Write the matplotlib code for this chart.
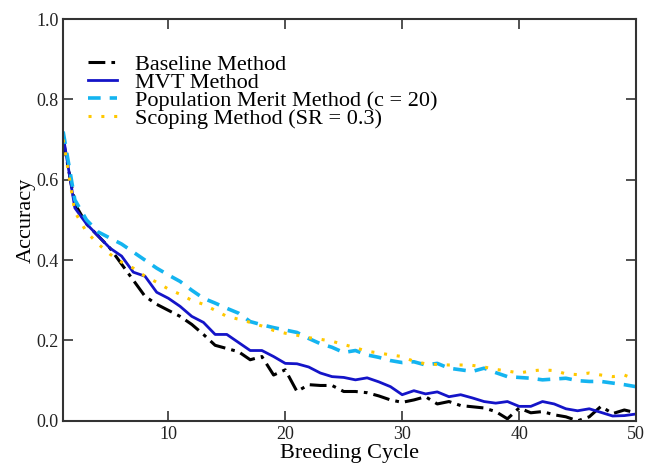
import matplotlib
matplotlib.use("Agg")
import matplotlib.pyplot as plt

plt.rcParams['font.family'] = ['Liberation Serif', 'DejaVu Serif']

cycles = list(range(1, 51))

baseline = [0.70, 0.54, 0.49, 0.46, 0.43, 0.39, 0.35, 0.31, 0.29, 0.275,
            0.26, 0.24, 0.215, 0.188, 0.18, 0.172, 0.152, 0.16, 0.114, 0.127,
            0.073, 0.09, 0.088, 0.088, 0.073, 0.073, 0.07, 0.062, 0.052, 0.046,
            0.052, 0.06, 0.042, 0.048, 0.038, 0.035, 0.032, 0.023, 0.005, 0.032,
            0.02, 0.023, 0.015, 0.01, 0.0, 0.01, 0.036, 0.018, 0.027, 0.02]

mvt = [0.71, 0.53, 0.49, 0.46, 0.43, 0.41, 0.37, 0.36, 0.32, 0.305,
       0.285, 0.26, 0.245, 0.215, 0.215, 0.195, 0.175, 0.175, 0.16, 0.143,
       0.142, 0.134, 0.119, 0.11, 0.108, 0.102, 0.107, 0.097, 0.085, 0.065,
       0.075, 0.067, 0.072, 0.06, 0.065, 0.057, 0.048, 0.044, 0.048, 0.036,
       0.036, 0.048, 0.042, 0.03, 0.025, 0.03, 0.021, 0.012, 0.013, 0.017]

merit = [0.72, 0.55, 0.50, 0.47, 0.455, 0.44, 0.42, 0.40, 0.38, 0.363,
         0.347, 0.325, 0.305, 0.293, 0.28, 0.268, 0.247, 0.239, 0.232, 0.226,
         0.22, 0.205, 0.192, 0.183, 0.17, 0.175, 0.164, 0.158, 0.15, 0.145,
         0.147, 0.139, 0.143, 0.131, 0.127, 0.123, 0.131, 0.12, 0.11, 0.108,
         0.106, 0.102, 0.104, 0.106, 0.10, 0.098, 0.098, 0.094, 0.09, 0.085]

scoping = [0.70, 0.52, 0.47, 0.44, 0.415, 0.395, 0.38, 0.36, 0.345, 0.328,
           0.315, 0.30, 0.29, 0.275, 0.26, 0.253, 0.245, 0.236, 0.225, 0.218,
           0.213, 0.207, 0.203, 0.198, 0.19, 0.182, 0.173, 0.169, 0.164, 0.16,
           0.148, 0.142, 0.14, 0.139, 0.139, 0.138, 0.134, 0.128, 0.124, 0.119,
           0.124, 0.127, 0.125, 0.117, 0.115, 0.119, 0.114, 0.11, 0.114, 0.102]

fig = plt.figure(figsize=(6.51, 4.65), dpi=100)
ax = fig.add_axes([0.097, 0.095, 0.880, 0.864])

ax.plot(cycles, baseline, color='black', linewidth=2.2,
        dashes=(5.5, 2, 1.2, 2), label='Baseline Method')
ax.plot(cycles, mvt, color='#1414c8', linewidth=2.0, label='MVT Method')
ax.plot(cycles, merit, color='#14b4f0', linewidth=2.6,
        dashes=(3.5, 2.5), label='Population Merit Method (c = 20)')
ax.plot(cycles, scoping, color='#ffc800', linewidth=2.2,
        dashes=(1, 3.2), label='Scoping Method (SR = 0.3)')

ax.set_xlim(1, 50)
ax.set_ylim(0, 1.0)
ax.set_xticks([10, 20, 30, 40, 50])
ax.set_yticks([0.0, 0.2, 0.4, 0.6, 0.8, 1.0])
ax.set_yticklabels(['0.0', '0.2', '0.4', '0.6', '0.8', '1.0'])
ax.tick_params(direction='in', length=7, width=1.2, top=True, right=True,
               labelsize=13, colors='#333333', labelcolor='#222222')
for s in ax.spines.values():
    s.set_linewidth(1.5)
    s.set_color('#333333')

ax.set_xlabel('Breeding Cycle', fontsize=16, labelpad=1)
ax.set_ylabel('Accuracy', fontsize=16, labelpad=0)

ax.legend(loc='upper left', bbox_to_anchor=(0.02, 0.945), frameon=False,
          fontsize=16, labelspacing=-0.12, handlelength=1.3, handletextpad=0.8,
          borderaxespad=0.2)

fig.savefig('out.png', dpi=100)
